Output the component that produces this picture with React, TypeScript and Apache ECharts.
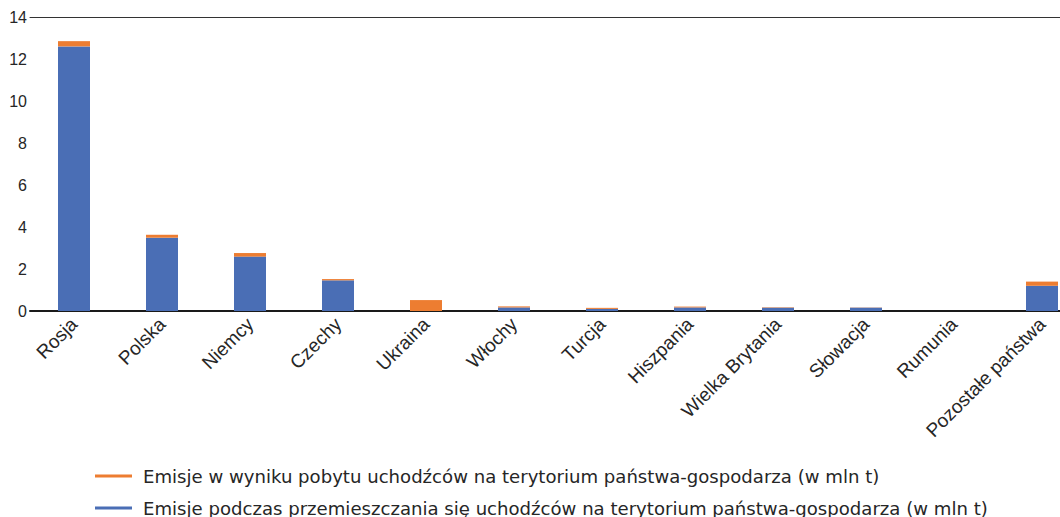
import React, { useEffect, useRef } from "react";
import * as echarts from "echarts";

const categories = [
  "Rosja",
  "Polska",
  "Niemcy",
  "Czechy",
  "Ukraina",
  "Włochy",
  "Turcja",
  "Hiszpania",
  "Wielka Brytania",
  "Słowacja",
  "Rumunia",
  "Pozostałe państwa",
];

const travelName =
  "Emisje podczas przemieszczania się uchodźców na terytorium państwa-gospodarza (w mln t)";
const stayName =
  "Emisje w wyniku pobytu uchodźców na terytorium państwa-gospodarza (w mln t)";

const travelValues = [12.6, 3.49, 2.59, 1.46, 0.0, 0.17, 0.1, 0.17, 0.16, 0.16, 0.0, 1.2];
const stayValues = [0.25, 0.14, 0.17, 0.06, 0.52, 0.05, 0.05, 0.04, 0.02, 0.01, 0.0, 0.2];

const yTicks = { min: 0, max: 14, interval: 2 };

export default function App() {
  const ref = useRef<HTMLDivElement>(null);

  useEffect(() => {
    if (!ref.current) return;
    const chart = echarts.init(ref.current, undefined, { renderer: "svg" });
    const axisFont = "'Liberation Sans', Arial, sans-serif";
    const legendFont = "'DejaVu Sans', sans-serif";
    const legendCommon = {
      orient: "horizontal",
      left: 95,
      padding: 0,
      itemWidth: 37,
      itemHeight: 3,
      icon: "rect",
      textStyle: { fontSize: 18.1, color: "#262626", fontFamily: legendFont, padding: [0, 0, 0, 6] },
    };
    chart.setOption({
      animation: false,
      textStyle: { fontFamily: axisFont },
      grid: { left: 30, right: 0, top: 17, bottom: 206, containLabel: false },
      legend: [
        { ...legendCommon, top: 467, data: [stayName] },
        { ...legendCommon, top: 499, data: [travelName] },
      ],
      xAxis: [
        {
          type: "category",
          data: categories,
          axisLine: { show: true, lineStyle: { color: "#1a1a1a", width: 2 } },
          axisTick: { show: false },
          axisLabel: {
            rotate: 45,
            fontSize: 19,
            color: "#262626",
            margin: 10,
            interval: 0,
            fontFamily: axisFont,
          },
        },
        {
          type: "category",
          position: "top",
          data: categories,
          axisLine: { show: true, lineStyle: { color: "#333", width: 1 } },
          axisTick: { show: false },
          axisLabel: { show: false },
        },
      ],
      yAxis: {
        type: "value",
        min: yTicks.min,
        max: yTicks.max,
        interval: yTicks.interval,
        axisLine: { show: false },
        axisTick: { show: false },
        splitLine: { show: false },
        axisLabel: { fontSize: 16, color: "#262626", margin: 3, fontFamily: axisFont },
      },
      series: [
        {
          name: travelName,
          type: "bar",
          stack: "total",
          data: travelValues,
          barWidth: 32,
          itemStyle: { color: "#4a6eb5" },
        },
        {
          name: stayName,
          type: "bar",
          stack: "total",
          data: stayValues,
          barWidth: 32,
          itemStyle: { color: "#ed7d31" },
        },
      ],
    });
    return () => chart.dispose();
  }, []);

  return (
    <div
      style={{
        position: "fixed",
        left: 0,
        top: 0,
        width: 1060,
        height: 517,
        overflow: "hidden",
        background: "#fff",
      }}
    >
      <div ref={ref} style={{ width: 1086, height: 517 }} />
    </div>
  );
}
